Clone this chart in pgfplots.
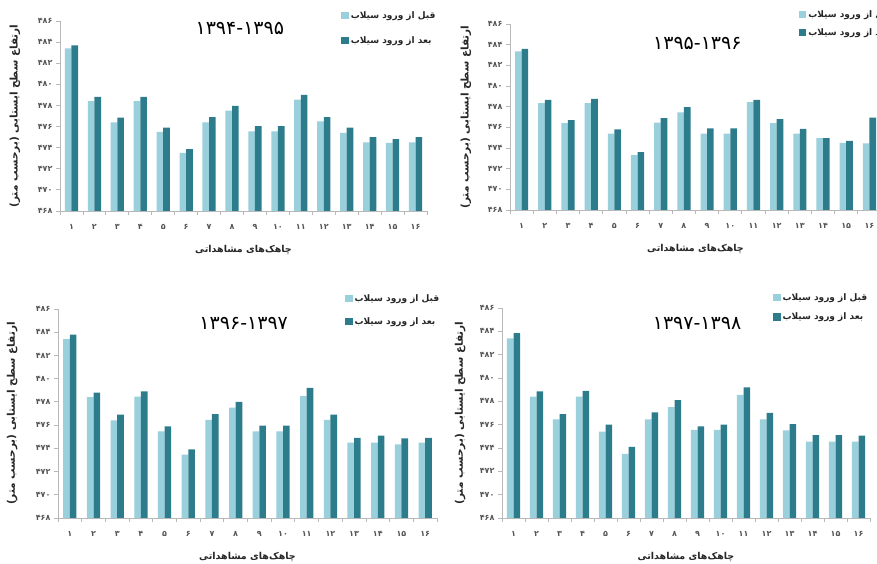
\documentclass[border=0pt]{standalone}
\usepackage{fontspec}
\usepackage{pgfplots}
\usepackage{pgfplotstable}
\pgfplotsset{compat=1.18}
\TeXXeTstate=1
\newfontfamily\fa[Script=Arabic]{DejaVu Sans}
\newfontfamily\fab[Script=Arabic]{DejaVu Sans Bold}
\definecolor{cbefore}{HTML}{9ACFDC}
\definecolor{cafter}{HTML}{2C7C8C}
\definecolor{axgray}{HTML}{B8B8B8}
\definecolor{lblgray}{HTML}{555555}

\pgfplotstableread{
x b a
1 483.4 483.7
2 478.4 478.8
3 476.4 476.85
4 478.4 478.8
5 475.5 475.9
6 473.5 473.85
7 476.4 476.9
8 477.5 477.95
9 475.55 476.05
10 475.55 476.05
11 478.55 479.0
12 476.5 476.9
13 475.4 475.9
14 474.5 475.0
15 474.45 474.8
16 474.5 475.0
}\pone
\pgfplotstableread{
x b a
1 483.35 483.6
2 478.35 478.65
3 476.4 476.7
4 478.35 478.75
5 475.4 475.8
6 473.3 473.6
7 476.45 476.9
8 477.45 477.95
9 475.4 475.9
10 475.4 475.9
11 478.45 478.65
12 476.4 476.8
13 475.4 475.85
14 474.95 474.95
15 474.5 474.7
16 474.45 476.95
}\ptwo
\pgfplotstableread{
x b a
1 483.4 483.8
2 478.4 478.8
3 476.4 476.9
4 478.45 478.9
5 475.45 475.9
6 473.45 473.9
7 476.45 476.95
8 477.5 478.0
9 475.45 475.95
10 475.45 475.95
11 478.5 479.2
12 476.45 476.9
13 474.5 474.9
14 474.5 475.1
15 474.35 474.85
16 474.5 474.9
}\pthree
\pgfplotstableread{
x b a
1 483.4 483.85
2 478.4 478.85
3 476.45 476.9
4 478.4 478.9
5 475.4 476.0
6 473.5 474.1
7 476.45 477.05
8 477.5 478.1
9 475.55 475.85
10 475.55 476.0
11 478.55 479.2
12 476.45 477.0
13 475.5 476.05
14 474.55 475.1
15 474.55 475.1
16 474.55 475.05
}\pfour

\pgfplotsset{
  panel/.style={
    scale only axis, anchor=south west,
    ybar=0pt, bar width=6.6pt,
    ymin=468, ymax=486, xmin=0.5, xmax=16.5,
    ytick={468,470,...,486},
    yticklabels={۴۶۸,۴۷۰,۴۷۲,۴۷۴,۴۷۶,۴۷۸,۴۸۰,۴۸۲,۴۸۴,۴۸۶},
    xtick={1,...,16},
    xticklabels={۱,۲,۳,۴,۵,۶,۷,۸,۹,۱۰,۱۱,۱۲,۱۳,۱۴,۱۵,۱۶},
    minor xtick={0.5,1.5,...,16.5},
    axis x line*=bottom, axis y line*=left,
    axis line style={axgray, line width=0.8pt},
    tick align=outside,
    major x tick style={draw=none},
    minor x tick style={axgray, line width=0.8pt},
    y tick style={axgray, line width=0.8pt},
    major tick length=4pt, minor tick length=4pt,
    tick label style={font=\fab\fontsize{8}{9}\selectfont, text=lblgray},
    xticklabel style={yshift=-6pt},
    xlabel={\fab\beginR چاهک‌های مشاهداتی\endR},
    xlabel style={font=\fontsize{9.5}{10}\selectfont, text=black!85, at={(axis description cs:0.5,0)}, anchor=center, yshift=-39pt},
    ylabel={\fab\beginR ارتفاع سطح ایستابی (برحسب متر)\endR},
    ylabel style={font=\fontsize{10.5}{11}\selectfont, text=black!85, anchor=center},
    legend style={draw=none, fill=none, font=\fab\fontsize{9}{10}\selectfont, text=black!85, anchor=north west, legend cell align=left, inner sep=0pt, nodes={inner sep=2pt}},
    legend image code/.code={\fill[##1] (0pt,-3.5pt) rectangle (7.5pt,4pt);},
    title style={font=\fa\fontsize{19}{20}\selectfont, anchor=center},
    clip=false,
  },
  bef/.style={fill=cbefore, draw=none},
  aft/.style={fill=cafter, draw=none},
}

\begin{document}
\begin{tikzpicture}
\useasboundingbox (0pt,0pt) rectangle (877pt,564pt);
% panel 1
\begin{axis}[panel, at={(60pt,353pt)}, width=367pt, height=190pt,
  ylabel style={at={(axis description cs:-0.123,0.5)}},
  title={۱۳۹۴-۱۳۹۵}, title style={at={(axis description cs:0.49,0.93)}},
  legend style={at={(axis description cs:0.766,1.062)}, row sep=13pt}]
\addplot[bef] table[x=x,y=b]{\pone};
\addplot[aft] table[x=x,y=a]{\pone};
\legend{\beginR قبل از ورود سیلاب\endR,\beginR بعد از ورود سیلاب\endR}
\end{axis}
% panel 2
\begin{axis}[panel, at={(510pt,354pt)}, width=371pt, height=186pt,
  ylabel style={at={(axis description cs:-0.119,0.5)}},
  title={۱۳۹۵-۱۳۹۶}, title style={at={(axis description cs:0.505,0.862)}},
  legend style={at={(axis description cs:0.778,1.085)}, row sep=6pt}]
\addplot[bef] table[x=x,y=b]{\ptwo};
\addplot[aft] table[x=x,y=a]{\ptwo};
\legend{\beginR قبل از ورود سیلاب\endR,\beginR بعد از ورود سیلاب\endR}
\end{axis}
% panel 3
\begin{axis}[panel, at={(58pt,46pt)}, width=379pt, height=209pt,
  ylabel style={at={(axis description cs:-0.121,0.5)}},
  title={۱۳۹۶-۱۳۹۷}, title style={at={(axis description cs:0.49,0.90)}},
  legend style={at={(axis description cs:0.757,1.08)}, row sep=11pt}]
\addplot[bef] table[x=x,y=b]{\pthree};
\addplot[aft] table[x=x,y=a]{\pthree};
\legend{\beginR قبل از ورود سیلاب\endR,\beginR بعد از ورود سیلاب\endR}
\end{axis}
% panel 4
\begin{axis}[panel, at={(502pt,46pt)}, width=368pt, height=210pt,
  ylabel style={at={(axis description cs:-0.114,0.5)}},
  title={۱۳۹۷-۱۳۹۸}, title style={at={(axis description cs:0.53,0.897)}},
  legend style={at={(axis description cs:0.736,1.078)}, row sep=7pt}]
\addplot[bef] table[x=x,y=b]{\pfour};
\addplot[aft] table[x=x,y=a]{\pfour};
\legend{\beginR قبل از ورود سیلاب\endR,\beginR بعد از ورود سیلاب\endR}
\end{axis}
\end{tikzpicture}
\end{document}
